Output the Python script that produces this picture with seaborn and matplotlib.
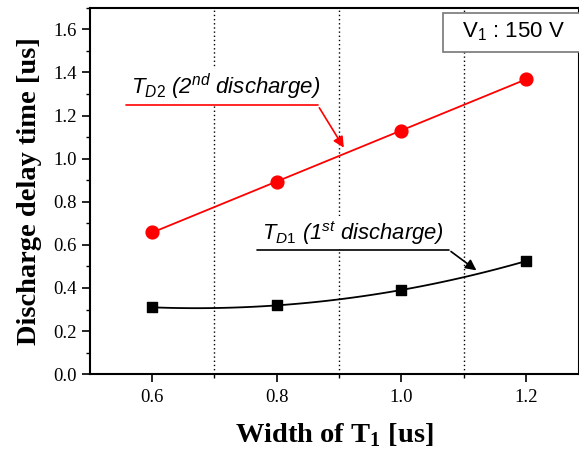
import matplotlib
matplotlib.use('Agg')
import matplotlib.pyplot as plt
from matplotlib.patches import Rectangle
import numpy as np
import seaborn as sns
import pandas as pd

# Data
width_t1 = [0.6, 0.8, 1.0, 1.2]
td1 = [0.31, 0.32, 0.39, 0.525]
td2 = [0.66, 0.89, 1.13, 1.37]
guide_x = [0.7, 0.9, 1.1]

sns.set_style('ticks')
plt.rcParams['font.family'] = ['Liberation Serif', 'DejaVu Serif']
plt.rcParams['text.color'] = 'black'
plt.rcParams['axes.labelcolor'] = 'black'
plt.rcParams['xtick.color'] = 'black'
plt.rcParams['ytick.color'] = 'black'
plt.rcParams['mathtext.fontset'] = 'custom'
plt.rcParams['mathtext.rm'] = 'Liberation Sans'
plt.rcParams['mathtext.it'] = 'Liberation Sans:italic'
plt.rcParams['mathtext.bf'] = 'Liberation Serif:bold'

df = pd.DataFrame({'width': width_t1, 'td1': td1, 'td2': td2})

fig = plt.figure(figsize=(5.79, 4.58), dpi=100)
ax = fig.add_axes([0.155, 0.183, 0.845, 0.800])

# guide lines
for gx in guide_x:
    ax.axvline(gx, color='black', linestyle=(0, (1, 2)), linewidth=1.0, zorder=0)

# 2nd discharge: linear fit
sns.regplot(data=df, x='width', y='td2', ci=None, ax=ax, color='red',
            marker='o', scatter_kws={'s': 85, 'zorder': 3, 'alpha': 1},
            line_kws={'linewidth': 1.3})
# 1st discharge: 2nd order fit
sns.regplot(data=df, x='width', y='td1', ci=None, order=2, ax=ax, color='black',
            marker='s', scatter_kws={'s': 60, 'zorder': 3, 'alpha': 1},
            line_kws={'linewidth': 1.3})

ax.set_xlim(0.5, 1.285)
ax.set_ylim(0.0, 1.7)
ax.set_xticks([0.6, 0.8, 1.0, 1.2])
ax.set_xticks([0.7, 0.9, 1.1], minor=True)
ax.set_yticks(np.arange(0, 1.61, 0.2))
ax.set_yticks(np.arange(0.1, 1.71, 0.2), minor=True)
ax.xaxis.set_major_formatter(matplotlib.ticker.FormatStrFormatter('%.1f'))
ax.yaxis.set_major_formatter(matplotlib.ticker.FormatStrFormatter('%.1f'))
ax.tick_params(which='major', direction='out', length=6, width=1.2, labelsize=13.5)
ax.tick_params(which='minor', direction='out', length=3, width=1.0)
ax.tick_params(axis='x', which='major', pad=5)
for sp in ax.spines.values():
    sp.set_linewidth(1.5)
    sp.set_color('black')

ax.set_xlabel(r'Width of T$_\mathbf{1}$ [us]', fontsize=20.5, fontweight='bold', labelpad=11)
ax.set_ylabel('Discharge delay time [us]', fontsize=20.5, fontweight='bold', labelpad=8)

# annotations
sans = ['Liberation Sans', 'DejaVu Sans']
ax.text(0.566, 1.262, r'T$_{\mathit{D2}}$ (2$^{\mathit{nd}}$ discharge)', family=sans,
        style='italic', fontsize=16, va='bottom', ha='left', zorder=4,
        bbox=dict(facecolor='white', edgecolor='none', pad=2))
ax.plot([0.558, 0.866], [1.247, 1.247], color='red', linewidth=1.2, zorder=4)
ax.annotate('', xy=(0.91, 1.04), xytext=(0.866, 1.247),
            arrowprops=dict(arrowstyle='-|>', color='red', lw=1.2, mutation_scale=16), zorder=4)

ax.text(0.776, 0.592, r'T$_{\mathit{D1}}$ (1$^{\mathit{st}}$ discharge)', family=sans,
        style='italic', fontsize=15.8, va='bottom', ha='left', zorder=4,
        bbox=dict(facecolor='white', edgecolor='none', pad=2))
ax.plot([0.769, 1.076], [0.577, 0.577], color='black', linewidth=1.2, zorder=4)
ax.annotate('', xy=(1.124, 0.474), xytext=(1.076, 0.577),
            arrowprops=dict(arrowstyle='-|>', color='black', lw=1.2, mutation_scale=16), zorder=4)

# V1 box (runs off the right edge, as in the reference)
ax.add_patch(Rectangle((0.722, 0.879), 0.35, 0.106, transform=ax.transAxes,
                       facecolor='white', edgecolor='#777777', linewidth=1.2,
                       zorder=5, clip_on=False))
ax.text(1.097, 1.59, r'V$_1$ : 150 V', family=sans, fontsize=16, va='center', ha='left',
        zorder=6)

fig.savefig('out.png', dpi=100)
